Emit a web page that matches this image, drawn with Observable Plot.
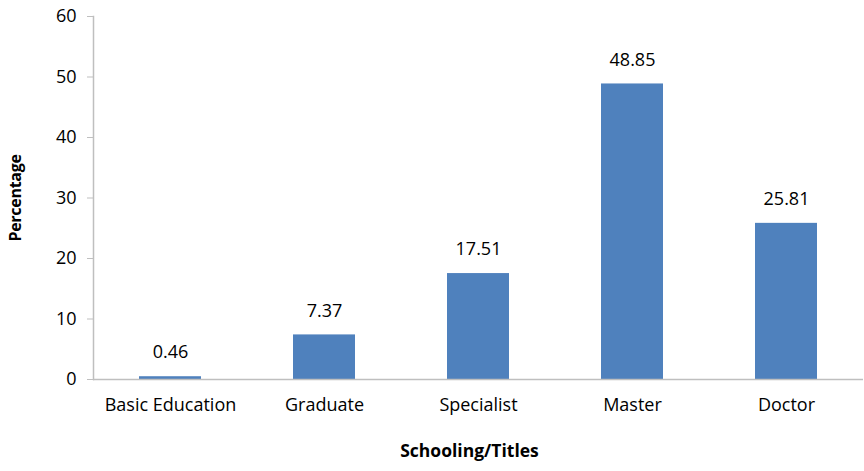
<!DOCTYPE html>
<html>
<head>
<meta charset="utf-8">
<script src="https://cdn.jsdelivr.net/npm/d3@7"></script>
<script src="https://cdn.jsdelivr.net/npm/@observablehq/plot@0.6"></script>
<style>
  html, body { margin: 0; padding: 0; background: #fff; }
  g[aria-label="y-axis label"] text { font-weight: bold; font-size: 16px; letter-spacing: -0.3px; }
</style>
</head>
<body>
<div id="chart"></div>
<script>
const categories = ["Basic Education", "Graduate", "Specialist", "Master", "Doctor"];
const values = [0.46, 7.37, 17.51, 48.85, 25.81];
const yTicks = [0, 10, 20, 30, 40, 50, 60];
const xTitle = "Schooling/Titles";
const yTitle = "Percentage";

const data = categories.map((c, i) => ({cat: c, val: values[i]}));

const chart = Plot.plot({
  width: 864,
  height: 471,
  marginLeft: 93,
  marginRight: 1,
  marginTop: 16,
  marginBottom: 92,
  style: {fontFamily: "'Open Sans', sans-serif", fontSize: "18px", color: "#000", background: "#fff"},
  x: {domain: categories, paddingInner: 0.6, paddingOuter: 0.3},
  y: {domain: [0, 60]},
  marks: [
    Plot.barY(data, {x: "cat", y: "val", fill: "#4F81BD"}),
    Plot.ruleY([0], {stroke: "#BFBFBF", strokeWidth: 1.5}),
    Plot.frame({anchor: "left", stroke: "#BFBFBF", strokeWidth: 1.5}),
    Plot.text(data, {x: "cat", y: "val", text: d => d.val.toFixed(2), dy: -24, fontSize: 18, fill: "#000"}),
    Plot.axisY({ticks: yTicks, tickSize: 6, tickPadding: 11, stroke: "#BFBFBF", fill: "#000", fontSize: 18,
      label: yTitle, labelAnchor: "center", labelArrow: "none", labelOffset: 84}),
    Plot.axisX({tickSize: 0, tickPadding: 19, fill: "#000", fontSize: 18, label: null}),
    Plot.text([xTitle], {frameAnchor: "bottom", dx: -9, dy: 77, fontWeight: "bold", fontSize: 17.5, fill: "#000"})
  ]
});
document.getElementById("chart").appendChild(chart);
</script>
</body>
</html>
